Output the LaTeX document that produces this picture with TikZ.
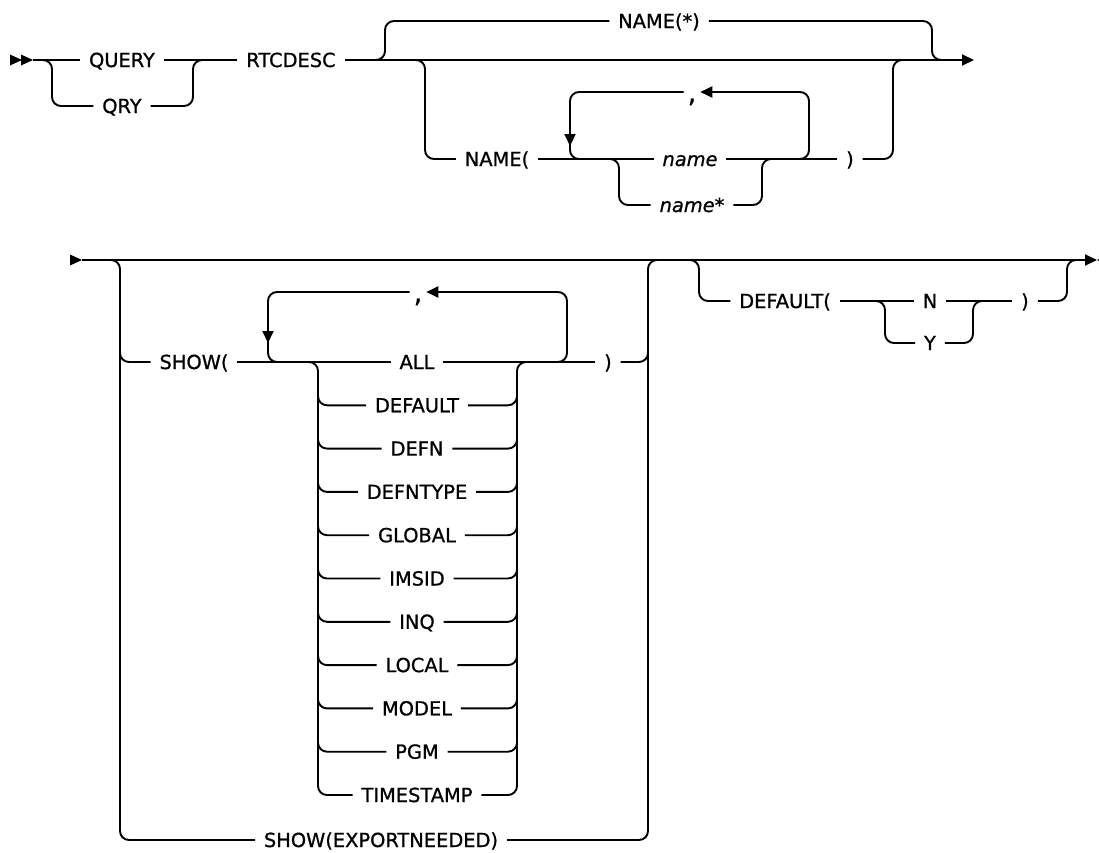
\documentclass[tikz,border=0pt]{standalone}
\usepackage{fontspec}
\setmainfont{DejaVu Sans}[FakeBold=0.9]
\usetikzlibrary{arrows.meta}
\begin{document}
\begin{tikzpicture}[x=1pt,y=-1pt,line width=1.9pt,
  rc/.style={rounded corners=9pt},
  lbl/.style={inner xsep=8pt,inner ysep=0pt,text height=14pt,text depth=0pt,font=\fontsize{19.4}{22}\selectfont},
  commalbl/.style={lbl,inner xsep=3pt},
  arr/.style={-{Triangle[length=12pt,width=11pt]}}]
\useasboundingbox (0,0) rectangle (1099,852);
\clip (0,0) rectangle (1099,852);
% ---------- row 1 ----------
\fill (10,54.5) -- (22,60) -- (10,65.5) -- cycle;
\fill (21,54.5) -- (33,60) -- (21,65.5) -- cycle;
\coordinate (s1) at (33,60);
\coordinate (e1) at (974,60);
\node[lbl] (query) at (122,60) {QUERY};
\node[lbl] (qry) at (122,106) {QRY};
\node[lbl] (rtc) at (291,60) {RTCDESC};
\node[lbl] (namestar) at (659,21) {NAME(*)};
\node[lbl] (namep) at (497,159) {NAME(};
\node[lbl] (name) at (690,159) {\itshape name};
\node[lbl] (namest) at (692,205) {\itshape name*};
\node[commalbl] (comma1) at (692,92) {\raisebox{-3pt}{\scalebox{1.4}{,}}};
\node[lbl] (rp1) at (850,159) {)};
\draw (s1) -- (query.west);
\draw[rc] (40,60) -| (52,106) -- (qry.west);
\draw (query.east) -- (rtc.west);
\draw[rc] (qry.east) -| (193,60) -- (205,60);
\draw[arr] (rtc.east) -- (e1);
\draw[rc] (375,60) -| (385,21) -- (namestar.west);
\draw[rc] (namestar.east) -| (932,60) -- (942,60);
\draw[rc] (415,60) -| (425,159) -- (namep.west);
\draw (namep.east) -- (name.west);
\draw (name.east) -- (rp1.west);
\draw[rc] (rp1.east) -| (893,60) -- (903,60);
\draw[rc,arr] (797,159) -| (809,92) -- (comma1.east);
\draw[rc,arr] (comma1.west) -| (570,146);
\draw[rc] (570,140) |- (582,159);
\draw[rc] (607,159) -| (619,205) -- (namest.west);
\draw[rc] (namest.east) -| (762,159) -- (774,159);
% ---------- row 2 ----------
\fill (70,254.5) -- (82,260) -- (70,265.5) -- cycle;
\coordinate (s2) at (82,260);
\coordinate (e2) at (1097,260);
\draw[arr] (s2) -- (e2);
\fill (1097,260) -- (1109,254.5) -- (1109,265.5) -- cycle;
\node[lbl] (show) at (194,362) {SHOW(};
\node[commalbl] (comma2) at (418,292) {\raisebox{-3pt}{\scalebox{1.4}{,}}};
\foreach \t [count=\i from 0] in {ALL,DEFAULT,DEFN,DEFNTYPE,GLOBAL,IMSID,INQ,LOCAL,MODEL,PGM,TIMESTAMP}
  \node[lbl] (it\i) at (417,362+43.3*\i) {\t};
\node[lbl] (rp2) at (608,362) {)};
\node[lbl] (export) at (381,840) {SHOW(EXPORTNEEDED)};
\node[lbl] (defp) at (785,301) {DEFAULT(};
\node[lbl] (n) at (930,301) {N};
\node[lbl] (y) at (930,343) {Y};
\node[lbl] (rp3) at (1025,301) {)};
\draw[rc] (110,260) -| (120,840) -- (export.west);
\draw[rc] (120,350) |- (show.west);
\draw (show.east) -- (it0.west);
\draw[rc,arr] (555,362) -| (567,292) -- (comma2.east);
\draw[rc,arr] (comma2.west) -| (268,343);
\draw[rc] (268,337) |- (280,362);
\draw[rc] (306,362) -| (318,795) -- (it10.west);
\draw[rc] (it10.east) -| (517,362) -- (529,362);
\foreach \i in {1,...,9}{
  \draw[rc] (318,362+43.3*\i-12) |- (it\i.west);
  \draw[rc] (it\i.east) -| (517,362+43.3*\i-12);
}
\draw (it0.east) -- (rp2.west);
\draw[rc] (rp2.east) -| (648,260) -- (658,260);
\draw[rc] (export.east) -| (648,350);
\draw[rc] (689,260) -| (699,301) -- (defp.west);
\draw (defp.east) -- (n.west);
\draw (n.east) -- (rp3.west);
\draw[rc] (873,301) -| (885,343) -- (y.west);
\draw[rc] (y.east) -| (973,301) -- (985,301);
\draw[rc] (rp3.east) -| (1067,260) -- (1077,260);
\end{tikzpicture}
\end{document}
